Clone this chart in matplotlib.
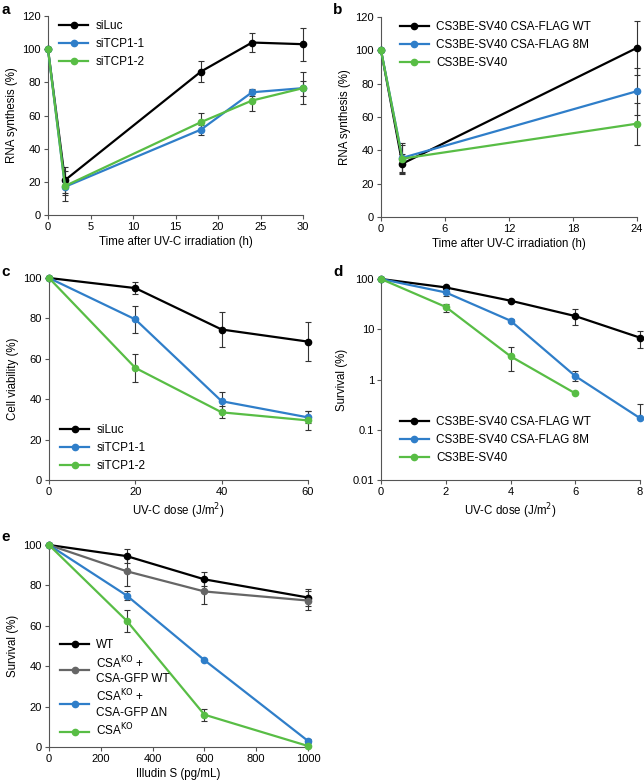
import numpy as np
import matplotlib.pyplot as plt

plt.rcParams['font.family'] = ['Liberation Sans', 'DejaVu Sans']
plt.rcParams['font.size'] = 8.3

BLACK = '#000000'
BLUE = '#2f7ec9'
GREEN = '#58bd45'
GRAY = '#666666'

# Panel a - RNA synthesis after UV-C (siRNA)
a_time = [0, 2, 18, 24, 30]
a_siluc = [100, 21, 86.5, 104, 103]
a_siluc_err = [0, 8, 6.5, 6, 10]
a_sitcp1_1 = [100, 17, 51.5, 74, 76.5]
a_sitcp1_1_err = [0, 5, 3, 2, 9.5]
a_sitcp1_2 = [100, 17.5, 56, 69, 76.5]
a_sitcp1_2_err = [0, 9, 5.5, 6.5, 4.5]

# Panel b - RNA synthesis (CS3BE lines)
b_time = [0, 2, 24]
b_wt = [100, 32, 101.5]
b_wt_err = [0, 6, 16]
b_8m = [100, 35.5, 75.5]
b_8m_err = [0, 9, 14]
b_sv40 = [100, 35, 56]
b_sv40_err = [0, 8, 12.5]

# Panel c - cell viability
c_dose = [0, 20, 40, 60]
c_siluc = [100, 95, 74.5, 68.5]
c_siluc_err = [0, 3, 8.5, 9.5]
c_sitcp1_1 = [100, 79.5, 39, 31]
c_sitcp1_1_err = [0, 6.5, 4.5, 3]
c_sitcp1_2 = [100, 55.5, 33.5, 29.5]
c_sitcp1_2_err = [0, 7, 3, 4.5]

# Panel d - survival (log)
d_dose = [0, 2, 4, 6, 8]
d_wt = [100, 68, 37, 18.3, 6.8]
d_wt_lo = [0, 4, 2, 6.2, 2.5]
d_wt_hi = [0, 4, 2, 6.5, 2.6]
d_8m = [100, 54, 14.8, 1.17, 0.17]
d_8m_lo = [0, 9, 1, 0.25, 0.0]
d_8m_hi = [0, 9, 1, 0.28, 0.16]
d_sv40_dose = [0, 2, 4, 6]
d_sv40 = [100, 27.8, 2.9, 0.53]
d_sv40_lo = [0, 5.5, 1.45, 0.0]
d_sv40_hi = [0, 4.5, 1.5, 0.0]

# Panel e - survival illudin S
e_dose = [0, 300, 600, 1000]
e_wt = [100, 94.5, 83, 74]
e_wt_err = [0, 3.5, 3.5, 4]
e_gfp_wt = [100, 87, 77, 72.5]
e_gfp_wt_err = [0, 7.5, 6, 4.5]
e_gfp_dn = [100, 75, 43, 3]
e_gfp_dn_err = [0, 2, 0.5, 1]
e_ko = [100, 62.5, 16, 0.5]
e_ko_err = [0, 5.5, 3, 0]

W, H = 644, 782
fig = plt.figure(figsize=(W / 100, H / 100), dpi=100)


def make_ax(l, r, t, b):
    ax = fig.add_axes([l / W, 1 - b / H, (r - l) / W, (b - t) / H])
    for s in ['top', 'right']:
        ax.spines[s].set_visible(False)
    for s in ['left', 'bottom']:
        ax.spines[s].set_color('#555555')
        ax.spines[s].set_linewidth(0.8)
    ax.tick_params(direction='out', length=3, width=0.8, color='#555555', labelsize=8, pad=2)
    return ax


def barras(ax, x, y, err):
    eb = ax.errorbar(x, y, yerr=err, fmt='none', ecolor='#333333', elinewidth=0.8,
                     capsize=2.5, capthick=0.8, zorder=2)
    # nao cortar as barras na borda do eixo
    for art in list(eb.lines[1]) + list(eb.lines[2]):
        art.set_clip_on(False)


def serie(ax, x, y, err, color, label):
    barras(ax, x, y, err)
    ax.plot(x, y, '-o', color=color, lw=1.6, ms=4.5, label=label, zorder=3, clip_on=False)


def legenda(ax, espaco=0.5, **kw):
    leg = ax.legend(frameon=False, fontsize=8.5, handlelength=2.5, handletextpad=0.6,
                    labelspacing=espaco, borderaxespad=0.3, **kw)
    return leg


# a
ax = make_ax(48, 303, 16, 215)
serie(ax, a_time, a_siluc, a_siluc_err, BLACK, 'siLuc')
serie(ax, a_time, a_sitcp1_1, a_sitcp1_1_err, BLUE, 'siTCP1-1')
serie(ax, a_time, a_sitcp1_2, a_sitcp1_2_err, GREEN, 'siTCP1-2')
ax.set_xlim(0, 30)
ax.set_ylim(0, 120)
ax.set_xticks(range(0, 31, 5))
ax.set_yticks(range(0, 121, 20))
ax.set_xlabel('Time after UV-C irradiation (h)', labelpad=3)
ax.set_ylabel('RNA synthesis (%)', labelpad=3)
legenda(ax, loc='upper left', bbox_to_anchor=(0.01, 1.02))
fig.text(1 / W, 1 - 10 / H, 'a', fontsize=11, fontweight='bold', va='center')

# b
ax = make_ax(381, 637, 17, 217)
barras(ax, b_time, b_wt, b_wt_err)
barras(ax, b_time, b_8m, b_8m_err)
barras(ax, b_time, b_sv40, b_sv40_err)
ax.plot(b_time, b_wt, '-o', color=BLACK, lw=1.6, ms=4.5, label='CS3BE-SV40 CSA-FLAG WT', clip_on=False, zorder=3)
ax.plot(b_time, b_8m, '-o', color=BLUE, lw=1.6, ms=4.5, label='CS3BE-SV40 CSA-FLAG 8M', clip_on=False, zorder=3)
ax.plot(b_time, b_sv40, '-o', color=GREEN, lw=1.6, ms=4.5, label='CS3BE-SV40', clip_on=False, zorder=3)
ax.set_xlim(0, 24)
ax.set_ylim(0, 120)
ax.set_xticks(range(0, 25, 6))
ax.set_yticks(range(0, 121, 20))
ax.set_xlabel('Time after UV-C irradiation (h)', labelpad=3)
ax.set_ylabel('RNA synthesis (%)', labelpad=3)
legenda(ax, loc='upper left', bbox_to_anchor=(0.04, 1.02))
fig.text(333 / W, 1 - 10 / H, 'b', fontsize=11, fontweight='bold', va='center')

# c
ax = make_ax(49, 308, 278, 480)
serie(ax, c_dose, c_siluc, c_siluc_err, BLACK, 'siLuc')
serie(ax, c_dose, c_sitcp1_1, c_sitcp1_1_err, BLUE, 'siTCP1-1')
serie(ax, c_dose, c_sitcp1_2, c_sitcp1_2_err, GREEN, 'siTCP1-2')
ax.set_xlim(0, 60)
ax.set_ylim(0, 100)
ax.set_xticks(range(0, 61, 20))
ax.set_yticks(range(0, 101, 20))
ax.set_xlabel('UV-C dose (J/m$^2$)', labelpad=3)
ax.set_ylabel('Cell viability (%)', labelpad=3)
legenda(ax, loc='lower left', bbox_to_anchor=(0.01, 0.0))
fig.text(1 / W, 1 - 272 / H, 'c', fontsize=11, fontweight='bold', va='center')

# d
ax = make_ax(381, 640, 279, 480)
barras(ax, d_dose, d_wt, [d_wt_lo, d_wt_hi])
barras(ax, d_dose, d_8m, [d_8m_lo, d_8m_hi])
barras(ax, d_sv40_dose, d_sv40, [d_sv40_lo, d_sv40_hi])
ax.plot(d_dose, d_wt, '-o', color=BLACK, lw=1.6, ms=4.5, label='CS3BE-SV40 CSA-FLAG WT', clip_on=False, zorder=3)
ax.plot(d_dose, d_8m, '-o', color=BLUE, lw=1.6, ms=4.5, label='CS3BE-SV40 CSA-FLAG 8M', clip_on=False, zorder=3)
ax.plot(d_sv40_dose, d_sv40, '-o', color=GREEN, lw=1.6, ms=4.5, label='CS3BE-SV40', clip_on=False, zorder=3)
ax.set_yscale('log')
ax.set_xlim(0, 8)
ax.set_ylim(0.01, 100)
ax.set_xticks(range(0, 9, 2))
ax.set_yticks([0.01, 0.1, 1, 10, 100])
ax.set_yticklabels(['0.01', '0.1', '1', '10', '100'])
ax.minorticks_off()
ax.set_xlabel('UV-C dose (J/m$^2$)', labelpad=3)
ax.set_ylabel('Survival (%)', labelpad=3)
legenda(ax, loc='lower left', bbox_to_anchor=(0.04, 0.04))
fig.text(333 / W, 1 - 272 / H, 'd', fontsize=11, fontweight='bold', va='center')

# e
ax = make_ax(49, 308, 545, 747)
serie(ax, e_dose, e_wt, e_wt_err, BLACK, 'WT')
serie(ax, e_dose, e_gfp_wt, e_gfp_wt_err, GRAY, 'CSA$^{\\mathrm{KO}}$ +\nCSA-GFP WT')
serie(ax, e_dose, e_gfp_dn, e_gfp_dn_err, BLUE, 'CSA$^{\\mathrm{KO}}$ +\nCSA-GFP \u0394N')
serie(ax, e_dose, e_ko, e_ko_err, GREEN, 'CSA$^{\\mathrm{KO}}$')
ax.set_xlim(0, 1000)
ax.set_ylim(0, 100)
ax.set_xticks(range(0, 1001, 200))
ax.set_yticks(range(0, 101, 20))
ax.set_xlabel('Illudin S (pg/mL)', labelpad=3)
ax.set_ylabel('Survival (%)', labelpad=3)
legenda(ax, espaco=0.3, loc='lower left', bbox_to_anchor=(0.01, 0.0))
fig.text(1 / W, 1 - 537 / H, 'e', fontsize=11, fontweight='bold', va='center')

plt.savefig('out.png', dpi=100)
